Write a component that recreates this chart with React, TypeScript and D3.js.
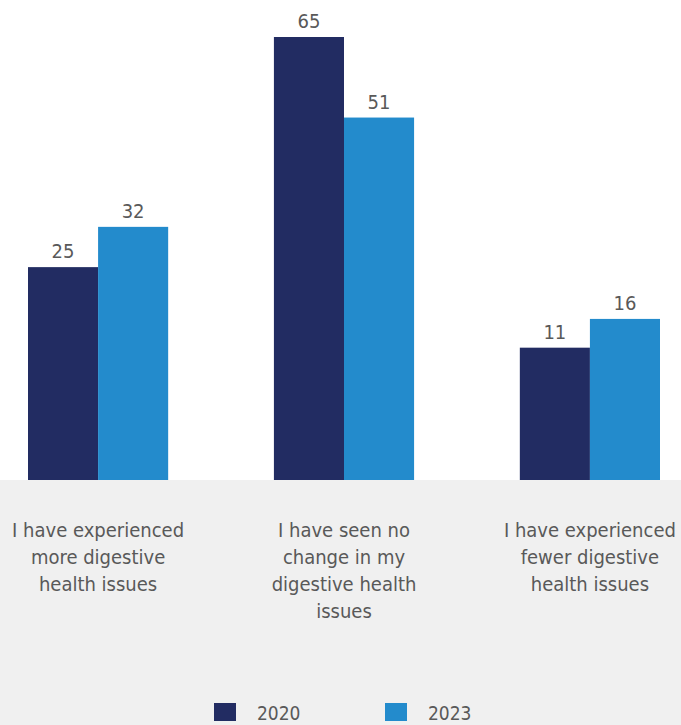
import { useMemo } from 'react'
import * as d3 from 'd3'

const categories = [
  ['I have experienced', 'more digestive', 'health issues'],
  ['I have seen no', 'change in my', 'digestive health', 'issues'],
  ['I have experienced', 'fewer digestive', 'health issues'],
]
const seriesNames = ['2020', '2023']
const values2020 = [25, 65, 11]
const values2023 = [32, 51, 16]
const colors = ['#222c62', '#238bcc']

const W = 681
const H = 725
const FONT = "'Liberation Sans Narrow', 'DejaVu Sans Condensed', 'Open Sans', sans-serif"

export default function App() {
  const x = useMemo(
    () => d3.scaleBand<number>().domain([0, 1, 2]).range([28, 660]).paddingInner(0.43).paddingOuter(0),
    []
  )
  const xs = useMemo(
    () => d3.scaleBand<number>().domain([0, 1]).range([0, x.bandwidth()]),
    [x]
  )
  // value axis starts below zero, as in the original
  const y = useMemo(() => d3.scaleLinear().domain([-12, 65]).range([480, 37]), [])
  const series = [values2020, values2023]

  return (
    <div style={{ position: 'absolute', left: 0, top: 0 }}>
      <svg width={W} height={H} style={{ display: 'block', fontFamily: FONT }}>
        <rect x={0} y={0} width={W} height={H} fill="#fff" />
        {series.map((vals, si) =>
          vals.map((v, ci) => {
            const bx = (x(ci) ?? 0) + (xs(si) ?? 0)
            return (
              <g key={`${si}-${ci}`}>
                <rect
                  x={bx}
                  y={y(v)}
                  width={xs.bandwidth()}
                  height={y(-12) - y(v)}
                  fill={colors[si]}
                />
                <text
                  x={bx + xs.bandwidth() / 2}
                  y={y(v) - 9}
                  textAnchor="middle"
                  fontSize={20}
                  fill="#595959"
                >
                  {v}
                </text>
              </g>
            )
          })
        )}
        <rect x={0} y={480} width={W} height={H - 480} fill="#f0f0f0" />
        {categories.map((lines, ci) => (
          <text
            key={ci}
            x={(x(ci) ?? 0) + x.bandwidth() / 2}
            y={537}
            textAnchor="middle"
            fontSize={20}
            fill="#595959"
          >
            {lines.map((l, li) => (
              <tspan key={li} x={(x(ci) ?? 0) + x.bandwidth() / 2} dy={li === 0 ? 0 : 27}>
                {l}
              </tspan>
            ))}
          </text>
        ))}
        {seriesNames.map((name, i) => (
          <g key={name} transform={`translate(${214 + i * 171},703)`}>
            <rect x={0} y={0} width={22} height={18} fill={colors[i]} />
            <text x={43} y={17} fontSize={19} fill="#595959">
              {name}
            </text>
          </g>
        ))}
      </svg>
    </div>
  )
}
